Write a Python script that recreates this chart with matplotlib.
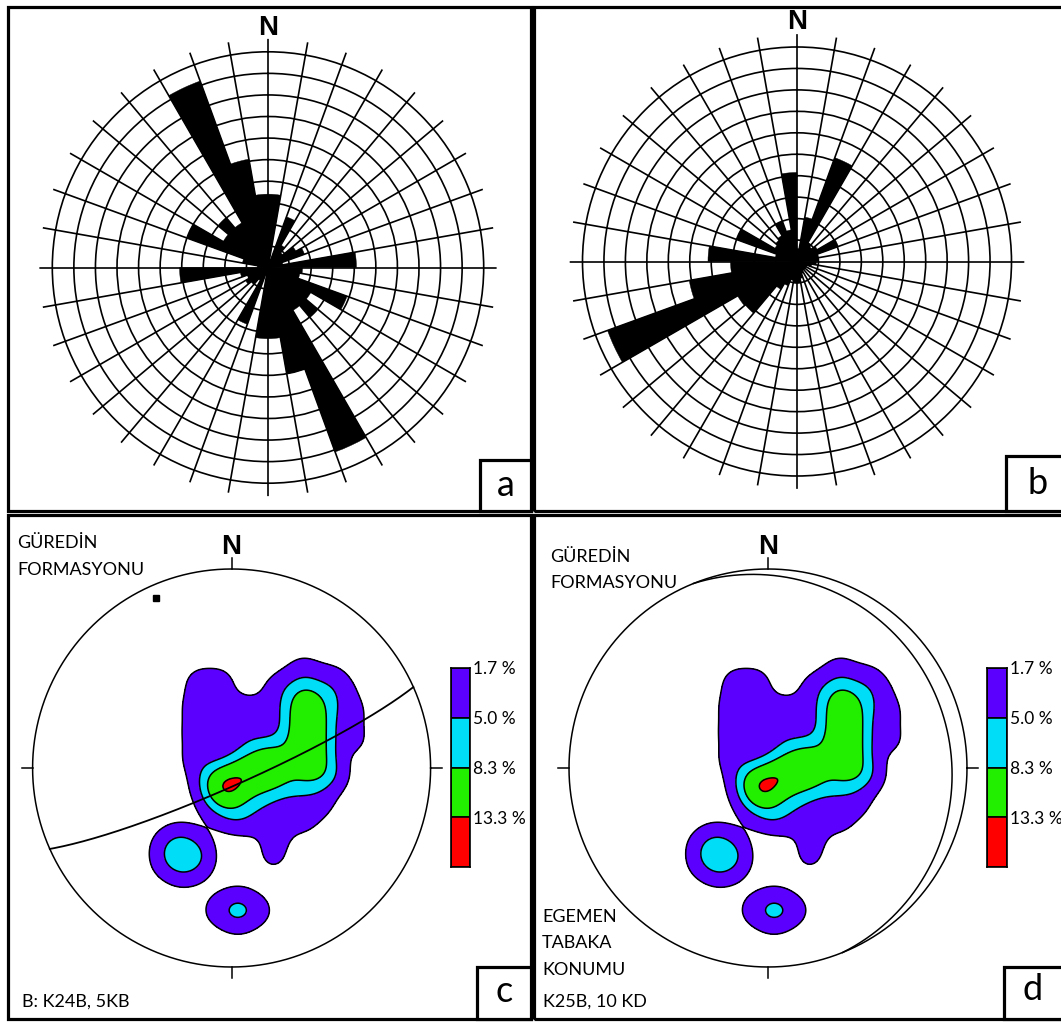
import numpy as np
import matplotlib
matplotlib.use("Agg")
import matplotlib.pyplot as plt
from matplotlib.patches import Rectangle

W, H = 1061, 1023

# rose diagrams: 10 degree bins clockwise from north, length in ring units
bins = np.arange(0, 360, 10)
rose_a = [3.4, 0.4, 2.5, 1.2, 0.9, 1.5, 1.8, 0.7, 4.1, 1.6, 1.5, 3.9,
          2.3, 3.0, 2.3, 9.1, 5.0, 3.3, 3.3, 0.3, 2.8, 0.7, 1.0, 1.2,
          1.0, 1.3, 4.1, 0.5, 1.2, 4.0, 2.4, 3.0, 2.4, 9.2, 5.1, 3.4]
rose_b = [0.6, 2.1, 5.15, 1.0, 0.9, 1.1, 2.05, 1.0, 1.0, 0.9, 0.7, 0.5,
          0.5, 0.5, 0.5, 0.6, 0.8, 1.0, 1.0, 0.9, 1.2, 1.5, 3.15, 3.2,
          9.4, 5.1, 3.1, 4.15, 1.0, 3.0, 1.2, 1.3, 1.4, 2.0, 1.5, 4.15]

# poles on the equal-area net (east, north; unit primitive radius)
pole_e = [-0.102, -0.088, -0.117, -0.073, -0.032, -0.018, -0.047, -0.003,
          0.038, 0.052, 0.023, 0.067, 0.097, 0.123, 0.072, 0.148,
          0.159, 0.185, 0.134, 0.210, 0.220, 0.246, 0.195, 0.271,
          -0.035,
          0.31, 0.31, 0.31, 0.31,
          0.36, 0.36, 0.36, 0.36, 0.36, 0.36,
          0.41, 0.41, 0.41, 0.41, 0.41, 0.41,
          0.46, 0.46, 0.46, 0.46, 0.46, 0.46,
          0.34, 0.39,
          0.34, 0.25,
          -0.17, -0.05, -0.19, -0.06, 0.05, -0.19, -0.06, 0.07, -0.19, 0.16,
          0.36, 0.23, 0.50,
          0.61, 0.62, 0.55,
          0.52, 0.45, 0.36,
          0.21, 0.22, 0.17,
          0.07, 0.00,
          -0.255, -0.332, -0.332, -0.245, -0.158, -0.168, -0.26, -0.23,
          0.031, -0.079, 0.141, 0.031, 0.031]
pole_n = [-0.084, -0.132, -0.036, -0.180, -0.068, -0.116, -0.020, -0.164,
          -0.044, -0.092, 0.004, -0.140, -0.0125, -0.0555, 0.0305, -0.0985,
          0.0255, -0.0175, 0.0685, -0.0605, 0.0645, 0.0215, 0.1075, -0.0215,
          -0.097,
          0.106, 0.179, 0.252, 0.325,
          -0.04, 0.033, 0.106, 0.179, 0.252, 0.325,
          -0.04, 0.033, 0.106, 0.179, 0.252, 0.325,
          -0.04, 0.033, 0.106, 0.179, 0.252, 0.325,
          0.39, 0.39,
          -0.12, -0.12,
          0.44, 0.44, 0.31, 0.31, 0.28, 0.18, 0.18, 0.17, 0.05, 0.28,
          0.50, 0.41, 0.45,
          0.28, 0.14, 0.38,
          -0.04, -0.18, -0.27,
          -0.45, -0.33, -0.21,
          -0.26, -0.245,
          -0.345, -0.385, -0.48, -0.53, -0.48, -0.405, -0.435, -0.435,
          -0.715, -0.715, -0.715, -0.67, -0.76]

levels = [1.7, 5.0, 8.3, 13.3]
level_colors = ["#5b00ff", "#00ddf6", "#22ee00", "#ff0000"]

plane_c = (156, 83)   # dip direction, dip
plane_d = (68, 9)

plt.rcParams["font.family"] = ["Lato", "DejaVu Sans"]
fig = plt.figure(figsize=(W / 100, H / 100), dpi=100)


def px_rect(x0, y0, x1, y1):
    return [x0 / W, 1 - y1 / H, (x1 - x0) / W, (y1 - y0) / H]


def box(x0, y0, x1, y1, fill=False):
    fig.add_artist(Rectangle((x0 / W, 1 - y1 / H), (x1 - x0) / W, (y1 - y0) / H,
                             transform=fig.transFigure, fill=fill, fc="white",
                             ec="black", lw=2.3, zorder=5))


def rose(cx, cy, unit, values):
    half = unit * 10.6
    ax = fig.add_axes(px_rect(cx - half, cy - half, cx + half, cy + half), projection="polar")
    ax.set_theta_zero_location("N")
    ax.set_theta_direction(-1)
    ax.bar(np.radians(bins + 5), values, width=np.radians(10), bottom=0,
           color="black", edgecolor="black", linewidth=0.3)
    ax.set_ylim(0, 10.6)
    ax.set_yticks(np.arange(1, 11))
    ax.set_xticks(np.radians(bins))
    ax.set_yticklabels([])
    ax.set_xticklabels([])
    ax.tick_params(length=0)
    ax.grid(True, color="black", linewidth=1.2)
    ax.spines["polar"].set_visible(False)
    return ax


def density(e, n, sigma=0.07, count_radius=0.122):
    g = np.linspace(-1, 1, 501)
    X, Y = np.meshgrid(g, g)
    D = np.zeros_like(X)
    for pe, pn in zip(e, n):
        D += np.exp(-((X - pe) ** 2 + (Y - pn) ** 2) / (2 * sigma ** 2))
    D *= 100.0 / len(e) * count_radius ** 2 / (2 * sigma ** 2)
    D[X ** 2 + Y ** 2 > 1] = np.nan
    return X, Y, D


def great_circle(dipdir, dip):
    dd, d = np.radians(dipdir), np.radians(dip)
    st = dd - np.pi / 2
    s = np.array([np.sin(st), np.cos(st), 0.0])
    dv = np.array([np.sin(dd) * np.cos(d), np.cos(dd) * np.cos(d), np.sin(d)])
    phi = np.linspace(0, np.pi, 361)
    v = np.outer(np.cos(phi), s) + np.outer(np.sin(phi), dv)
    plunge = np.arcsin(np.clip(v[:, 2], -1, 1))
    trend = np.arctan2(v[:, 0], v[:, 1])
    r = np.sqrt(2) * np.sin((np.pi / 2 - plunge) / 2)
    return r * np.sin(trend), r * np.cos(trend)


def stereonet(cx, cy, R):
    lim = 1.25
    half = R * lim
    ax = fig.add_axes(px_rect(cx - half, cy - half, cx + half, cy + half))
    ax.set_xlim(-lim, lim)
    ax.set_ylim(-lim, lim)
    ax.axis("off")
    X, Y, D = density(pole_e, pole_n)
    ax.contourf(X, Y, D, levels=levels + [100], colors=level_colors)
    ax.contour(X, Y, D, levels=levels, colors="black", linewidths=1.1)
    t = np.linspace(0, 2 * np.pi, 721)
    ax.plot(np.cos(t), np.sin(t), color="black", lw=1.1)
    ax.plot([0, 0], [1, 1.055], color="black", lw=1.1)
    ax.plot([0, 0], [-1, -1.055], color="black", lw=1.1)
    ax.plot([1, 1.055], [0, 0], color="black", lw=1.1)
    ax.plot([-1, -1.055], [0, 0], color="black", lw=1.1)
    ax.text(0, 1.112, "N", ha="center", va="center", fontsize=20,
            fontweight="bold", family="Liberation Sans")
    return ax


def legend_bar(x0, x1, y0, y1):
    cax = fig.add_axes(px_rect(x0, y0, x1, y1))
    n = len(levels)
    cax.bar(np.zeros(n), np.ones(n), bottom=np.arange(n)[::-1], width=1,
            color=level_colors, edgecolor="black", linewidth=1.2)
    cax.set_xlim(-0.5, 0.5)
    cax.set_ylim(0, n)
    cax.set_xticks([])
    cax.set_yticks(np.arange(n, 0, -1))
    cax.set_yticklabels([f"{v:.1f} %" for v in levels])
    cax.yaxis.tick_right()
    cax.tick_params(length=0, labelsize=12.5, pad=2.5)
    for sp in cax.spines.values():
        sp.set_linewidth(1.2)


# panel frames
box(8, 7, 531, 511)
box(534, 7, 1066, 511)
box(8, 515, 531, 1019)
box(534, 515, 1066, 1019)

# a, b: rose diagrams
rose(268, 267.5, 21.57, rose_a)
rose(797, 261.5, 21.45, rose_b)
fig.text(268 / W, 1 - 28 / H, "N", ha="center", va="center", fontsize=20,
         fontweight="bold", family="Liberation Sans")
fig.text(797.5 / W, 1 - 22 / H, "N", ha="center", va="center", fontsize=20,
         fontweight="bold", family="Liberation Sans")

# c: stereonet with great circle and its pole
axc = stereonet(231.6, 768, 199)
gx, gy = great_circle(*plane_c)
axc.plot(gx, gy, color="black", lw=1.3)
pr = np.sqrt(2) * np.sin(np.radians(plane_c[1]) / 2)
pt = np.radians(plane_c[0] + 180)
axc.plot(pr * np.sin(pt), pr * np.cos(pt), "s", color="black", ms=5)
legend_bar(451, 470, 668, 867)

# d: stereonet with dominant bedding plane
axd = stereonet(768, 768, 199)
gx, gy = great_circle(*plane_d)
axd.plot(gx, gy, color="black", lw=1.1)
legend_bar(987, 1007, 668, 867)

# labels
fs = 13
fig.text(17 / W, 1 - 548 / H, "GÜREDİN", fontsize=fs, va="baseline")
fig.text(17 / W, 1 - 575 / H, "FORMASYONU", fontsize=fs, va="baseline")
fig.text(22 / W, 1 - 1006.5 / H, "B: K24B, 5KB", fontsize=fs, va="baseline")
fig.text(550 / W, 1 - 561.5 / H, "GÜREDİN", fontsize=fs, va="baseline")
fig.text(550 / W, 1 - 588 / H, "FORMASYONU", fontsize=fs, va="baseline")
fig.text(542 / W, 1 - 921.5 / H, "EGEMEN", fontsize=fs, va="baseline")
fig.text(542 / W, 1 - 948 / H, "TABAKA", fontsize=fs, va="baseline")
fig.text(542 / W, 1 - 975 / H, "KONUMU", fontsize=fs, va="baseline")
fig.text(543 / W, 1 - 1006.5 / H, "K25B, 10 KD", fontsize=fs, va="baseline")

# panel letters
box(480, 460, 531, 511, fill=True)
box(1006, 456, 1066, 511, fill=True)
box(477, 967, 531, 1019, fill=True)
box(1004, 967, 1066, 1019, fill=True)
for x, y, s in [(506, 485, "a"), (1038, 483, "b"), (504, 992, "c"), (1033, 990, "d")]:
    fig.text(x / W, 1 - y / H, s, ha="center", va="center", fontsize=26, zorder=6)

fig.savefig("out.png", dpi=100, facecolor="white")
